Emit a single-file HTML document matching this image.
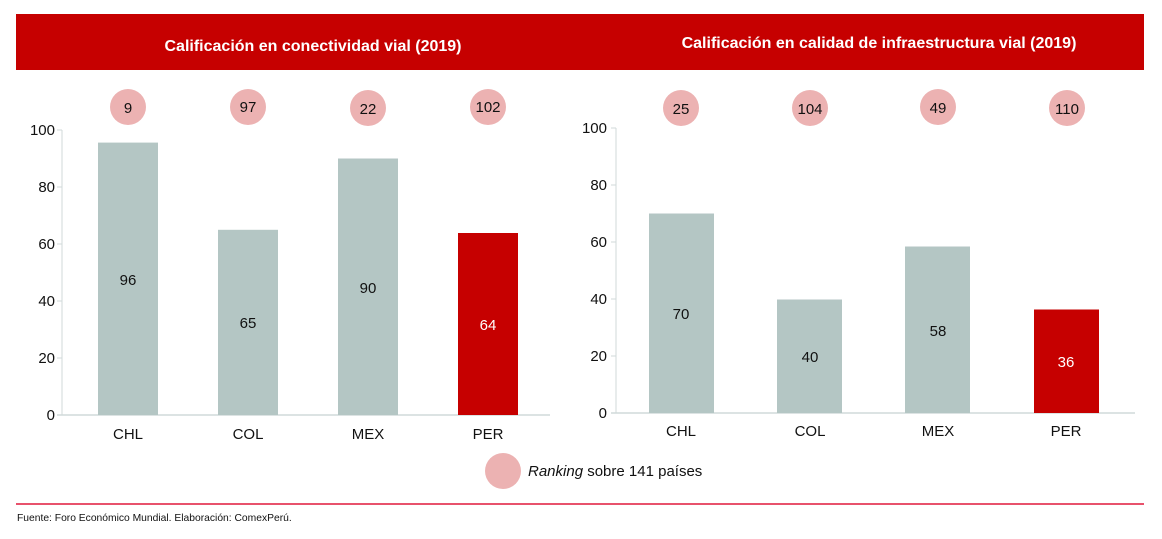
<!DOCTYPE html>
<html><head><meta charset="utf-8"><style>
body{margin:0;background:#fff;}
svg{display:block;font-family:"Liberation Sans",Arial,sans-serif;}
</style></head><body>
<svg width="1162" height="539" viewBox="0 0 1162 539">
<rect x="16" y="14" width="1128" height="56" fill="#c60000"/>
<text x="313" y="51" font-size="16" font-weight="bold" fill="#fff" text-anchor="middle">Calificación en conectividad vial (2019)</text>
<text x="879" y="48" font-size="16" font-weight="bold" fill="#fff" text-anchor="middle">Calificación en calidad de infraestructura vial (2019)</text>

<!-- left chart -->
<g font-size="15" fill="#111">
<line x1="62" y1="130" x2="62" y2="415" stroke="#d0dada"/>
<line x1="57" y1="415" x2="550" y2="415" stroke="#d0dada" stroke-width="1.5"/>
<g stroke="#d0dada"><line x1="57" y1="130" x2="62" y2="130"/><line x1="57" y1="187" x2="62" y2="187"/><line x1="57" y1="244" x2="62" y2="244"/><line x1="57" y1="301" x2="62" y2="301"/><line x1="57" y1="358" x2="62" y2="358"/></g>
<g text-anchor="end"><text x="55" y="135">100</text><text x="55" y="192">80</text><text x="55" y="249">60</text><text x="55" y="306">40</text><text x="55" y="363">20</text><text x="55" y="420">0</text></g>
<rect x="98" y="142.6" width="60" height="272.4" fill="#b4c6c4"/>
<rect x="218" y="229.8" width="60" height="185.2" fill="#b4c6c4"/>
<rect x="338" y="158.5" width="60" height="256.5" fill="#b4c6c4"/>
<rect x="458" y="233" width="60" height="182" fill="#c60000"/>
<g text-anchor="middle">
<text x="128" y="285">96</text><text x="248" y="328">65</text><text x="368" y="293">90</text><text x="488" y="330" fill="#fff">64</text>
<text x="128" y="439">CHL</text><text x="248" y="439">COL</text><text x="368" y="439">MEX</text><text x="488" y="439">PER</text>
<g fill="#ecb2b2"><circle cx="128" cy="107" r="18"/><circle cx="248" cy="107" r="18"/><circle cx="368" cy="108" r="18"/><circle cx="488" cy="107" r="18"/></g>
<text x="128" y="113">9</text><text x="248" y="112">97</text><text x="368" y="114">22</text><text x="488" y="112">102</text>
</g>
</g>

<!-- right chart -->
<g font-size="15" fill="#111">
<line x1="616" y1="128" x2="616" y2="413" stroke="#d0dada"/>
<line x1="611" y1="413" x2="1135" y2="413" stroke="#d0dada" stroke-width="1.5"/>
<g stroke="#d0dada"><line x1="611" y1="128" x2="616" y2="128"/><line x1="611" y1="185" x2="616" y2="185"/><line x1="611" y1="242" x2="616" y2="242"/><line x1="611" y1="299" x2="616" y2="299"/><line x1="611" y1="356" x2="616" y2="356"/></g>
<g text-anchor="end"><text x="607" y="133">100</text><text x="607" y="190">80</text><text x="607" y="247">60</text><text x="607" y="304">40</text><text x="607" y="361">20</text><text x="607" y="418">0</text></g>
<rect x="649" y="213.5" width="65" height="199.5" fill="#b4c6c4"/>
<rect x="777" y="299.5" width="65" height="113.5" fill="#b4c6c4"/>
<rect x="905" y="246.5" width="65" height="166.5" fill="#b4c6c4"/>
<rect x="1034" y="309.5" width="65" height="103.5" fill="#c60000"/>
<g text-anchor="middle">
<text x="681" y="319">70</text><text x="810" y="362">40</text><text x="938" y="336">58</text><text x="1066" y="367" fill="#fff">36</text>
<text x="681" y="436">CHL</text><text x="810" y="436">COL</text><text x="938" y="436">MEX</text><text x="1066" y="436">PER</text>
<g fill="#ecb2b2"><circle cx="681" cy="108" r="18"/><circle cx="810" cy="108" r="18"/><circle cx="938" cy="107" r="18"/><circle cx="1067" cy="108" r="18"/></g>
<text x="681" y="114">25</text><text x="810" y="114">104</text><text x="938" y="113">49</text><text x="1067" y="114">110</text>
</g>
</g>

<circle cx="503" cy="471" r="18" fill="#ecb2b2"/>
<text x="528" y="476" font-size="15" fill="#111"><tspan font-style="italic">Ranking</tspan> sobre 141 países</text>

<line x1="16" y1="504" x2="1144" y2="504" stroke="#e0183c" stroke-width="1.5"/>
<text x="17" y="521" font-size="10.3" fill="#111">Fuente: Foro Económico Mundial. Elaboración: ComexPerú.</text>
</svg>
</body></html>
